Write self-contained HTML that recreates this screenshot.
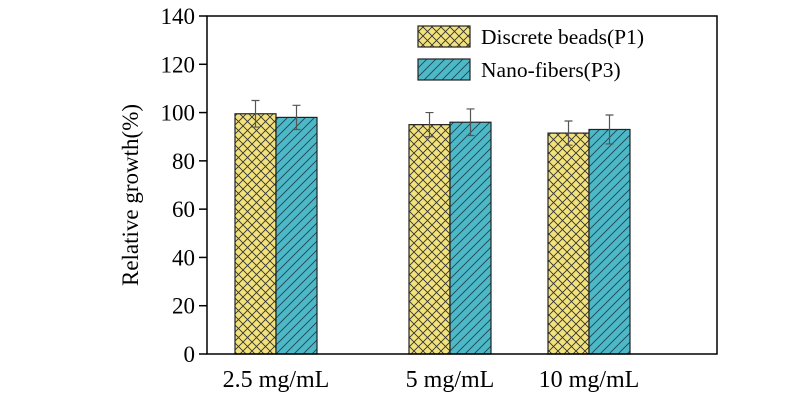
<!DOCTYPE html>
<html><head><meta charset="utf-8"><style>body{margin:0;background:#fff}svg{display:block}</style></head>
<body>
<svg id="chart" width="800" height="400" xmlns="http://www.w3.org/2000/svg" font-family="Liberation Serif, serif">
<defs>
<pattern id="cross" width="9" height="9" patternUnits="userSpaceOnUse">
<rect width="9" height="9" fill="#f2e27c"/><path d="M0,0L9,9M9,0L0,9M-1,8L1,10M8,-1L10,1" stroke="#333" stroke-width="0.9"/></pattern>
<pattern id="diag" width="9" height="9" patternUnits="userSpaceOnUse">
<rect width="9" height="9" fill="#4db8c6"/><path d="M0,9L9,0M-2,2L2,-2M7,11L11,7" stroke="#245" stroke-width="0.9"/></pattern>
</defs>
<g id="g"></g>
</svg>
<script>
const categories=["2.5 mg/mL","5 mg/mL","10 mg/mL"];
const seriesNames=["Discrete beads(P1)","Nano-fibers(P3)"];
const p1Values=[99.5,95,91.5];
const p3Values=[98,96,93];
const p1Errors=[5.5,5,5];
const p3Errors=[5,5.5,6];
const yTicks=[0,20,40,60,80,100,120,140];
const NS="http://www.w3.org/2000/svg";
const g=document.getElementById('g');
const L=207,R=717,T=16,B=354,yMax=140;
const y=v=>B-(v/yMax)*(B-T);
const groupCenters=[276,450,589];
const x=i=>groupCenters[i];
function mk(t,a){const e=document.createElementNS(NS,t);for(const k in a)e.setAttribute(k,a[k]);g.appendChild(e);return e;}
let e;
yTicks.forEach(v=>{
 e=mk('line',{x1:L-8,x2:L,y1:y(v),y2:y(v),stroke:'#000','stroke-width':1.5});
 
 
 e=mk('text',{x:L-12,y:y(v)+8,'text-anchor':'end','font-size':23});e.textContent=v;
 
 
});
const bw=41;
[[p1Values,p1Errors,'url(#cross)',-1],[p3Values,p3Errors,'url(#diag)',0]].forEach((s,si)=>{
 s[0].forEach((v,i)=>{
  const bx=x(i)+s[3]*bw;
  e=mk('rect',{x:bx,y:y(v),width:bw,height:B-y(v),fill:s[2],stroke:'#222','stroke-width':1.2});
  
  
  const cx=bx+bw/2,er=s[1][i];
  e=mk('path',{d:`M${cx},${y(v+er)}V${y(v-er)}M${cx-4},${y(v+er)}H${cx+4}M${cx-4},${y(v-er)}H${cx+4}`,stroke:'#555','stroke-width':1.2,fill:'none'});
  
  
 });
});
categories.forEach((c,i)=>{
 e=mk('text',{x:x(i),y:B+33,'text-anchor':'middle','font-size':24});e.textContent=c;
 
 
});
e=mk('rect',{x:L,y:T,width:R-L,height:B-T,fill:'none',stroke:'#000','stroke-width':1.5});


e=mk('text',{x:0,y:0,'text-anchor':'middle','font-size':23,transform:`translate(138,${(T+B)/2+10}) rotate(-90)`});e.textContent='Relative growth(%)';


['url(#cross)','url(#diag)'].forEach((f,i)=>{
 e=mk('rect',{x:418,y:26+i*33,width:52,height:21,fill:f,stroke:'#222','stroke-width':1.2});
 
 
 e=mk('text',{x:481,y:44+i*33,'font-size':21.5});e.textContent=seriesNames[i];
 
 
});
</script>
</body></html>
